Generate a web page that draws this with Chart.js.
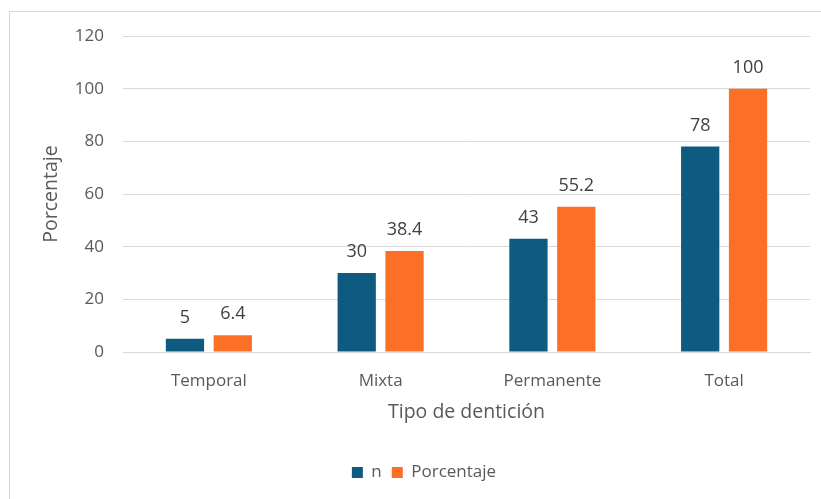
<!DOCTYPE html>
<html>
<head>
<meta charset="utf-8">
<script src="https://cdn.jsdelivr.net/npm/chart.js@4.4.1/dist/chart.umd.min.js"></script>
<style>
  html, body { margin: 0; padding: 0; background: #fff; overflow: hidden; width: 821px; height: 499px; }
  #frame { position: absolute; left: 9px; top: 11px; width: 840px; height: 500px; border-left: 1.5px solid #d6d6d6; border-top: 1.5px solid #d6d6d6; box-sizing: border-box; }
  #wrap { position: absolute; left: 9px; top: 11px; width: 832px; height: 488px; }
</style>
</head>
<body>
<div id="frame"></div>
<div id="wrap"><canvas id="c" width="832" height="488"></canvas></div>
<script>
const categories = ["Temporal", "Mixta", "Permanente", "Total"];
const nValues = [5, 30, 43, 78];
const pctValues = [6.4, 38.4, 55.2, 100];
const seriesNames = ["n", "Porcentaje"];
const yTicks = [0, 20, 40, 60, 80, 100, 120];

const FONT = "'Open Sans', sans-serif";

const labelPlugin = {
  id: 'barLabels',
  afterDatasetsDraw(chart) {
    const ctx = chart.ctx;
    ctx.save();
    ctx.font = "18px " + FONT;
    ctx.fillStyle = '#404040';
    ctx.textAlign = 'center';
    ctx.textBaseline = 'alphabetic';
    chart.data.datasets.forEach((ds, i) => {
      const meta = chart.getDatasetMeta(i);
      meta.data.forEach((bar, j) => {
        ctx.fillText(String(ds.data[j]), bar.x, bar.y - 16);
      });
    });
    ctx.restore();
  }
};

new Chart(document.getElementById('c'), {
  type: 'bar',
  data: {
    labels: categories,
    datasets: [
      { label: seriesNames[0], data: nValues, backgroundColor: '#0e5a80', categoryPercentage: 0.557, barPercentage: 0.8 },
      { label: seriesNames[1], data: pctValues, backgroundColor: '#fb6f27', categoryPercentage: 0.557, barPercentage: 0.8 }
    ]
  },
  options: {
    responsive: false,
    animation: false,
    layout: { padding: { left: 0, right: 2, top: 25, bottom: 8 } },
    plugins: {
      tooltip: { enabled: false },
      legend: {
        position: 'bottom',
        labels: {
          font: { family: FONT, size: 17 },
          color: '#595959',
          boxWidth: 11,
          boxHeight: 11,
          padding: 10
        }
      }
    },
    scales: {
      x: {
        grid: { display: false, drawTicks: false },
        border: { display: true, color: '#d9d9d9', width: 1 },
        ticks: { font: { family: FONT, size: 17 }, color: '#595959', padding: 19 },
        title: { display: true, text: 'Tipo de dentición', font: { family: FONT, size: 19.5 }, color: '#595959', padding: { top: 0, bottom: 30 } },
        afterFit(s) { s.height = 102; s.paddingLeft = 0; s.paddingRight = 0; }
      },
      y: {
        min: 0, max: 120,
        afterBuildTicks(s) { s.ticks = yTicks.map(v => ({ value: v })); },
        grid: { color: '#d9d9d9', drawTicks: false, lineWidth: 1 },
        border: { display: false },
        ticks: { font: { family: FONT, size: 17 }, color: '#595959', padding: 19 },
        title: { display: true, text: 'Porcentaje', font: { family: FONT, size: 19.5 }, color: '#595959', padding: { top: 31, bottom: 0 } },
        afterFit(s) { s.width = 114; s.paddingTop = 0; s.paddingBottom = 0; }
      },
      ySpacer: {
        position: 'right',
        min: 0, max: 120,
        grid: { display: false, drawTicks: false },
        border: { display: false },
        ticks: { display: false },
        afterFit(s) { s.width = 29; s.paddingTop = 0; s.paddingBottom = 0; }
      }
    }
  },
  plugins: [labelPlugin]
});
</script>
</body>
</html>
